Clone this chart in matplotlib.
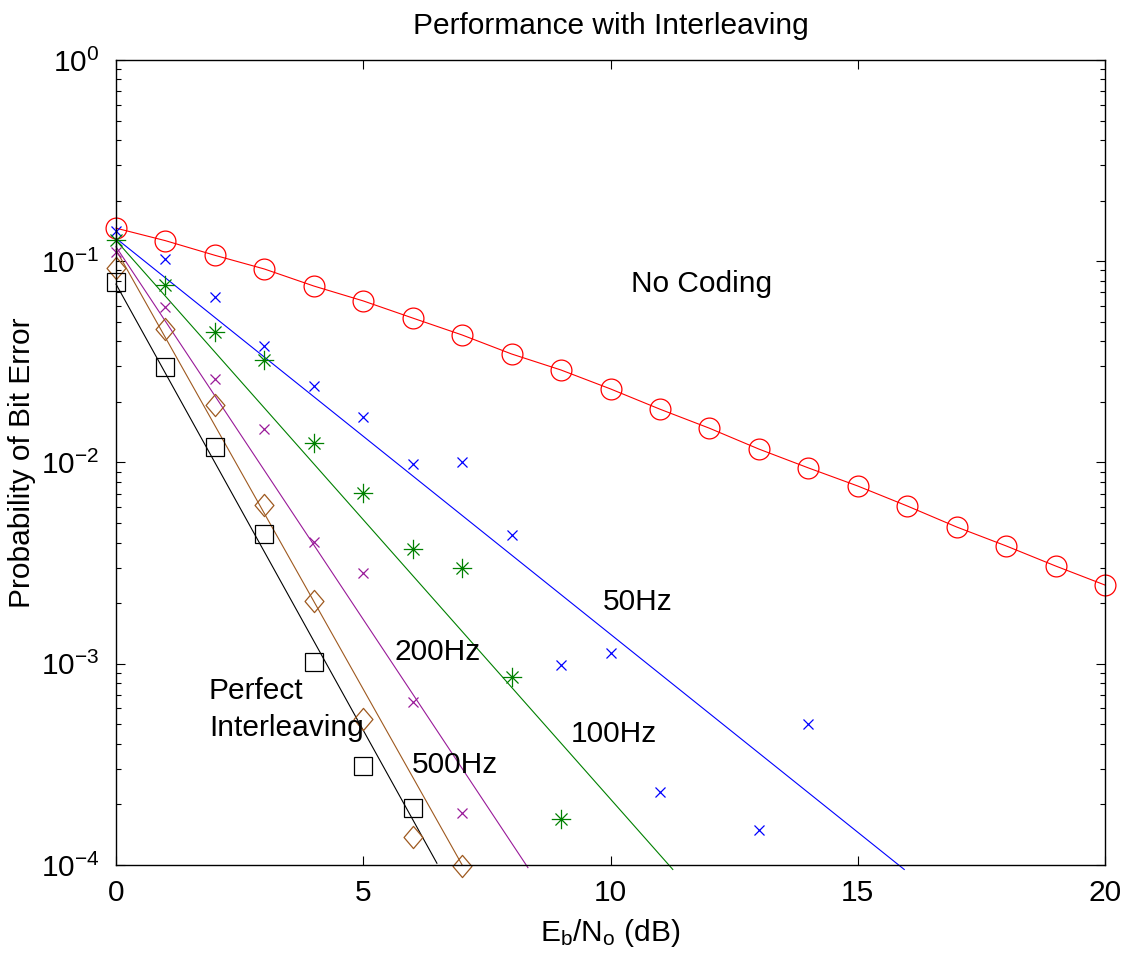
import matplotlib
matplotlib.use('Agg')
import matplotlib.pyplot as plt
import numpy as np
from matplotlib.path import Path
from matplotlib.ticker import LogLocator, NullFormatter

plt.rcParams['font.family'] = ['Liberation Sans', 'DejaVu Sans']
plt.rcParams['mathtext.fontset'] = 'custom'
plt.rcParams['mathtext.rm'] = 'Liberation Sans'
plt.rcParams['mathtext.it'] = 'Liberation Sans:italic'
plt.rcParams['mathtext.bf'] = 'Liberation Sans:bold'

# uncoded BPSK, 0..20 dB
snr_nc = np.arange(0, 21)
pe_nc = [0.146, 0.1265, 0.107, 0.0915, 0.0753, 0.0635, 0.0522, 0.043, 0.0346,
         0.0288, 0.0232, 0.0184, 0.0148, 0.01166, 0.0094, 0.00764, 0.00608,
         0.00478, 0.00385, 0.00306, 0.00246]

# simulated points (interleaver with different doppler)
snr_50 = [0, 1, 2, 3, 4, 5, 6, 7, 8, 9, 10, 11, 13, 14]
pe_50 = [0.142, 0.1026, 0.0664, 0.0379, 0.024, 0.0168, 0.00983, 0.01005,
         0.00436, 0.000986, 0.00113, 0.000231, 0.000149, 0.000502]

snr_100 = [0, 1, 2, 3, 4, 5, 6, 7, 8, 9]
pe_100 = [0.128, 0.0762, 0.0447, 0.0323, 0.01254, 0.00708, 0.00371, 0.00298,
          0.000863, 0.000169]

snr_200 = [0, 1, 2, 3, 4, 5, 6, 7]
pe_200 = [0.1115, 0.0595, 0.0259, 0.01472, 0.00404, 0.00283, 0.000643, 0.000181]

snr_500 = [0, 1, 2, 3, 4, 5, 6, 7]
pe_500 = [0.0923, 0.0459, 0.0194, 0.00615, 0.00206, 0.000531, 0.000137, 0.0000993]

snr_perf = [0, 1, 2, 3, 4, 5, 6]
pe_perf = [0.0791, 0.0299, 0.0119, 0.0044, 0.001017, 0.00031, 0.000191]

# fitted trend lines: (0 dB value) -> (end dB, end value)
fit_p0 = [0.13, 0.127, 0.118, 0.114, 0.077]
fit_xend = [15.94, 11.26, 8.33, 7.0, 6.49]
fit_pend = [0.95e-4, 0.95e-4, 0.97e-4, 1.0e-4, 1.02e-4]

c_blue = (0, 0, 1)
c_green = (0, 0.5, 0)
c_purple = (0.6, 0.1, 0.6)
c_brown = (0.62, 0.35, 0.12)
c_black = 'k'
fit_colors = [c_blue, c_green, c_purple, c_brown, c_black]

# matlab style markers
star = Path([(-1, 0), (1, 0), (0, -1), (0, 1), (-.62, -.62), (.62, .62), (-.62, .62), (.62, -.62)],
            [Path.MOVETO, Path.LINETO] * 4)
diamond = Path([(0, 1), (0.85, 0), (0, -1), (-0.85, 0), (0, 1)],
               [Path.MOVETO, Path.LINETO, Path.LINETO, Path.LINETO, Path.CLOSEPOLY])

fig = plt.figure(figsize=(11.24, 9.58), dpi=100)
ax = fig.add_axes([0.1032, 0.0971, 0.8799, 0.8403])

ax.semilogy(snr_nc, pe_nc, '-', color='r', lw=0.8, marker='o', ms=15,
            mfc='none', mew=0.9, clip_on=False)

for p0, xe, pe, c in zip(fit_p0, fit_xend, fit_pend, fit_colors):
    ax.semilogy([0, xe], [p0, pe], '-', color=c, lw=0.8, clip_on=False)

ax.semilogy(snr_50, pe_50, 'x', color=c_blue, ms=7.5, mew=0.9, clip_on=False)
ax.semilogy(snr_100, pe_100, ls='none', marker=star, color=c_green, ms=14, mew=0.9,
            clip_on=False)
ax.semilogy(snr_200, pe_200, 'x', color=c_purple, ms=7.5, mew=0.9, clip_on=False)
ax.semilogy(snr_500, pe_500, ls='none', marker=diamond, color=c_brown, ms=16,
            mfc='none', mew=0.9, clip_on=False)
ax.semilogy(snr_perf, pe_perf, 's', color=c_black, ms=13.5, mfc='none', mew=0.9,
            clip_on=False)

fs = 21.5
ax.text(10.41, 0.0771, 'No Coding', fontsize=fs, va='center')
ax.text(9.85, 0.00203, '50Hz', fontsize=fs, va='center')
ax.text(5.64, 0.00114, '200Hz', fontsize=fs, va='center')
ax.text(9.20, 0.000448, '100Hz', fontsize=fs, va='center')
ax.text(5.99, 0.000314, '500Hz', fontsize=fs, va='center')
ax.text(1.88, 0.000590, 'Perfect\nInterleaving', fontsize=fs, va='center',
        linespacing=1.4)

ax.set_xlim(0, 20)
ax.set_ylim(1e-4, 1)
ax.set_xticks([0, 5, 10, 15, 20])
ax.yaxis.set_major_locator(LogLocator(base=10, numticks=10))
ax.yaxis.set_minor_locator(LogLocator(base=10, subs=np.arange(2, 10), numticks=10))
ax.yaxis.set_minor_formatter(NullFormatter())

ax.tick_params(which='both', direction='in', top=True, right=True, labelsize=fs)
ax.tick_params(which='major', length=6.5, width=0.8)
ax.tick_params(which='minor', length=3.6, width=0.8)
ax.tick_params(axis='x', pad=10)
ax.tick_params(axis='y', pad=12)
for s in ax.spines.values():
    s.set_linewidth(1.0)

ax.set_title('Performance with Interleaving', fontsize=fs, pad=19)
ax.set_xlabel(r'E$_\mathrm{b}$/N$_\mathrm{o}$ (dB)', fontsize=fs, labelpad=7)
ax.set_ylabel('Probability of Bit Error', fontsize=fs, labelpad=3)

plt.savefig('out.png', dpi=100)
